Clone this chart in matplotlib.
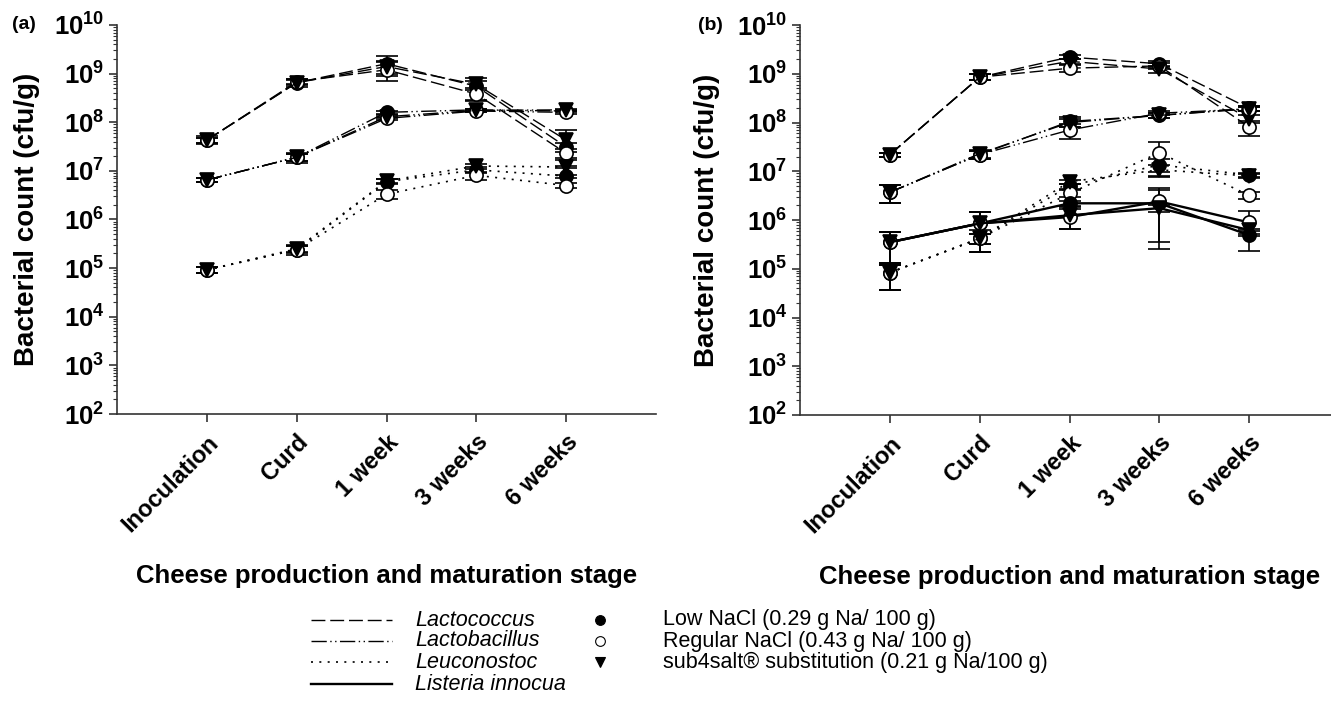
import numpy as np
import matplotlib
matplotlib.use('Agg')
import matplotlib.pyplot as plt
from matplotlib.ticker import LogLocator, FixedLocator, NullFormatter

plt.rcParams['font.family'] = ['Liberation Sans', 'DejaVu Sans']
plt.rcParams['mathtext.fontset'] = 'custom'
plt.rcParams['mathtext.rm'] = 'Liberation Sans:bold'
plt.rcParams['mathtext.bf'] = 'Liberation Sans:bold'
plt.rcParams['mathtext.it'] = 'Liberation Sans:bold:italic'

# ---------------- data ----------------
stages = ['Inoculation', 'Curd', '1 week', '3 weeks', '6 weeks']
treatments = ['Low NaCl (0.29 g Na/ 100 g)',
              'Regular NaCl (0.43 g Na/ 100 g)',
              'sub4salt® substitution (0.21 g Na/100 g)']
genera = ['Lactococcus', 'Lactobacillus', 'Leuconostoc', 'Listeria innocua']

# panel (a) means (cfu/g) and SD (cfu/g)
a_lactococcus_low = [4.3e7, 6.5e8, 1.6e9, 5.5e8, 3.1e7]
a_lactococcus_reg = [4.3e7, 6.8e8, 1.2e9, 3.8e8, 2.3e7]
a_lactococcus_sub = [4.3e7, 6.5e8, 1.4e9, 6.0e8, 4.3e7]
a_lactococcus_low_sd = [0.8e7, 1.2e8, 0.7e9, 2.8e8, 0.6e7]
a_lactococcus_reg_sd = [0.5e7, 0.8e8, 0.5e9, 0.9e8, 0.5e7]
a_lactococcus_sub_sd = [0.5e7, 0.8e8, 0.4e9, 1.0e8, 2.6e7]

a_lactobacillus_low = [6.5e6, 1.9e7, 1.6e8, 1.8e8, 1.7e8]
a_lactobacillus_reg = [6.5e6, 1.9e7, 1.2e8, 1.7e8, 1.6e8]
a_lactobacillus_sub = [6.5e6, 1.9e7, 1.3e8, 1.75e8, 1.8e8]
a_lactobacillus_low_sd = [0.5e6, 0.45e7, 0.1e8, 0.1e8, 0.1e8]
a_lactobacillus_reg_sd = [0.5e6, 0.3e7, 0.1e8, 0.1e8, 0.1e8]
a_lactobacillus_sub_sd = [0.5e6, 0.3e7, 0.1e8, 0.1e8, 0.1e8]

a_leuconostoc_low = [9.2e4, 2.4e5, 6.0e6, 1.05e7, 7.8e6]
a_leuconostoc_reg = [9.2e4, 2.4e5, 3.3e6, 8.1e6, 5.0e6]
a_leuconostoc_sub = [9.2e4, 2.5e5, 6.2e6, 1.26e7, 1.2e7]
a_leuconostoc_low_sd = [1.2e4, 0.55e5, 0.7e6, 1.5e6, 0.5e6]
a_leuconostoc_reg_sd = [1.2e4, 0.4e5, 0.7e6, 1.5e6, 0.5e6]
a_leuconostoc_sub_sd = [1.2e4, 0.4e5, 0.7e6, 1.5e6, 0.5e6]

# panel (b)
b_lactococcus_low = [2.2e7, 8.5e8, 2.2e9, 1.6e9, 1.95e8]
b_lactococcus_reg = [2.2e7, 8.5e8, 1.3e9, 1.45e9, 8.1e7]
b_lactococcus_sub = [2.2e7, 8.5e8, 1.8e9, 1.25e9, 1.2e8]
b_lactococcus_low_sd = [0.2e7, 1.2e8, 0.2e9, 0.2e9, 0.2e8]
b_lactococcus_reg_sd = [0.2e7, 1.2e8, 0.2e9, 0.2e9, 2.8e7]
b_lactococcus_sub_sd = [0.2e7, 1.2e8, 0.2e9, 0.2e9, 0.2e8]

b_lactobacillus_low = [3.7e6, 2.2e7, 1.05e8, 1.4e8, 1.95e8]
b_lactobacillus_reg = [3.7e6, 2.2e7, 7.0e7, 1.55e8, 1.9e8]
b_lactobacillus_sub = [3.7e6, 2.3e7, 1.0e8, 1.4e8, 1.9e8]
b_lactobacillus_low_sd = [1.5e6, 0.4e7, 0.25e8, 0.15e8, 0.2e8]
b_lactobacillus_reg_sd = [1.5e6, 0.4e7, 2.5e7, 0.15e8, 0.2e8]
b_lactobacillus_sub_sd = [1.5e6, 0.4e7, 0.2e8, 0.15e8, 0.2e8]

b_leuconostoc_low = [8.3e4, 4.2e5, 5.0e6, 1.35e7, 8.4e6]
b_leuconostoc_reg = [8.3e4, 4.2e5, 3.5e6, 2.4e7, 3.2e6]
b_leuconostoc_sub = [8.3e4, 4.2e5, 6.1e6, 1.07e7, 8.0e6]
b_leuconostoc_low_sd = [4.6e4, 2.0e5, 0.6e6, 0.4e7, 0.8e6]
b_leuconostoc_reg_sd = [4.6e4, 1.0e5, 0.6e6, 1.6e7, 0.5e6]
b_leuconostoc_sub_sd = [4.6e4, 1.0e5, 0.6e6, 0.3e7, 0.8e6]

b_listeria_low = [3.5e5, 8.5e5, 2.2e6, 2.2e6, 4.9e5]
b_listeria_reg = [3.5e5, 8.5e5, 1.15e6, 2.4e6, 8.9e5]
b_listeria_sub = [3.5e5, 8.5e5, 1.25e6, 1.75e6, 6.2e5]
b_listeria_low_sd = [2.3e5, 6.3e5, 0.3e6, 1.95e6, 0.2e5]
b_listeria_reg_sd = [2.3e5, 6.3e5, 0.5e6, 2.05e6, 6.6e5]
b_listeria_sub_sd = [2.3e5, 6.3e5, 0.6e6, 0.3e6, 0.2e5]

panel_a = {
    'Lactococcus': [(a_lactococcus_low, a_lactococcus_low_sd),
                    (a_lactococcus_reg, a_lactococcus_reg_sd),
                    (a_lactococcus_sub, a_lactococcus_sub_sd)],
    'Lactobacillus': [(a_lactobacillus_low, a_lactobacillus_low_sd),
                      (a_lactobacillus_reg, a_lactobacillus_reg_sd),
                      (a_lactobacillus_sub, a_lactobacillus_sub_sd)],
    'Leuconostoc': [(a_leuconostoc_low, a_leuconostoc_low_sd),
                    (a_leuconostoc_reg, a_leuconostoc_reg_sd),
                    (a_leuconostoc_sub, a_leuconostoc_sub_sd)],
}
panel_b = {
    'Lactococcus': [(b_lactococcus_low, b_lactococcus_low_sd),
                    (b_lactococcus_reg, b_lactococcus_reg_sd),
                    (b_lactococcus_sub, b_lactococcus_sub_sd)],
    'Lactobacillus': [(b_lactobacillus_low, b_lactobacillus_low_sd),
                      (b_lactobacillus_reg, b_lactobacillus_reg_sd),
                      (b_lactobacillus_sub, b_lactobacillus_sub_sd)],
    'Leuconostoc': [(b_leuconostoc_low, b_leuconostoc_low_sd),
                    (b_leuconostoc_reg, b_leuconostoc_reg_sd),
                    (b_leuconostoc_sub, b_leuconostoc_sub_sd)],
    'Listeria innocua': [(b_listeria_low, b_listeria_low_sd),
                         (b_listeria_reg, b_listeria_reg_sd),
                         (b_listeria_sub, b_listeria_sub_sd)],
}

# ---------------- styles ----------------
line_styles = {
    'Lactococcus': dict(dashes=(10, 3.5), lw=1.0),
    'Lactobacillus': dict(dashes=(11, 2.5, 1, 2.5, 1, 2.5), lw=1.0),
    'Leuconostoc': dict(dashes=(1.2, 3.8), lw=1.2),
    'Listeria innocua': dict(linestyle='-', lw=1.7),
}
marker_styles = [dict(marker='o', mfc='black', mec='black'),
                 dict(marker='o', mfc='white', mec='black'),
                 dict(marker='v', mfc='black', mec='black')]

W, H = 1331, 704
fig = plt.figure(figsize=(W / 100, H / 100), dpi=100)
axA = fig.add_axes([117 / W, 290 / H, 539 / W, 389 / H])
axB = fig.add_axes([800 / W, 289 / H, 539 / W, 390 / H])

x = np.arange(1, len(stages) + 1)

def draw(ax, panel):
    for g, series in panel.items():
        for (vals, sd), ms in zip(series, marker_styles):
            ax.errorbar(x, vals, yerr=sd, color='black', ecolor='black',
                        elinewidth=1.2, capsize=8, capthick=1.2,
                        markersize=9.5, markeredgewidth=1.2,
                        **ms, **line_styles[g])

def style(ax, label, lab_x):
    ax.set_yscale('log')
    ax.set_ylim(1e2, 1e10)
    ax.set_xlim(0, 6)
    ax.set_xticks(x)
    ax.set_xticklabels(stages, rotation=45, ha='right', va='top',
                       rotation_mode='anchor', fontsize=17, fontweight='bold')
    ax.yaxis.set_major_locator(FixedLocator([10.0 ** k for k in range(2, 11)]))
    ax.set_yticklabels([r'$10^{%d}$' % k for k in range(2, 11)], fontsize=18.5)
    ax.yaxis.set_minor_locator(LogLocator(base=10, subs=np.arange(2, 10), numticks=20))
    ax.yaxis.set_minor_formatter(NullFormatter())
    for s in ['top', 'right']:
        ax.spines[s].set_visible(False)
    for s in ['left', 'bottom']:
        ax.spines[s].set_color('#333333')
        ax.spines[s].set_linewidth(1.2)
    ax.tick_params(axis='both', which='major', direction='out', length=6,
                   width=1.2, color='#333333', pad=3)
    ax.tick_params(axis='y', which='minor', direction='out', length=3,
                   width=0.8, color='#333333')
    ax.tick_params(axis='x', pad=6)
    ax.set_ylabel('Bacterial count (cfu/g)', fontsize=20, fontweight='bold')
    ax.yaxis.set_label_coords(lab_x, 0.5)
    ax.set_xlabel('Cheese production and maturation stage', fontsize=18.5,
                  fontweight='bold')
    ax.xaxis.set_label_coords(0.5, -0.385)
    ax.text(label[1], 1.0, label[0], transform=ax.transAxes, fontsize=14,
            fontweight='bold', ha='left', va='center')

draw(axA, panel_a)
draw(axB, panel_b)
style(axA, ('(a)', -0.195), -0.143)
style(axB, ('(b)', -0.19), -0.148)

# ---------------- legend ----------------
leg = fig.add_axes([0, 0, 1, 1])
leg.set_xlim(0, W)
leg.set_ylim(H, 0)
leg.axis('off')
rows = [620, 641, 662, 684]
for g, yy in zip(genera, rows):
    leg.plot([311, 392], [yy, yy], color='black', **line_styles[g])
    leg.text(415, yy, g, fontsize=15.5, style='italic', va='center', ha='left')
for t, ms, yy in zip(treatments, marker_styles, rows):
    leg.plot([600], [yy], linestyle='none', markersize=7, markeredgewidth=0.8, **ms)
    leg.text(663, yy, t, fontsize=15.5, va='center', ha='left')

fig.savefig('out.png', dpi=100)
